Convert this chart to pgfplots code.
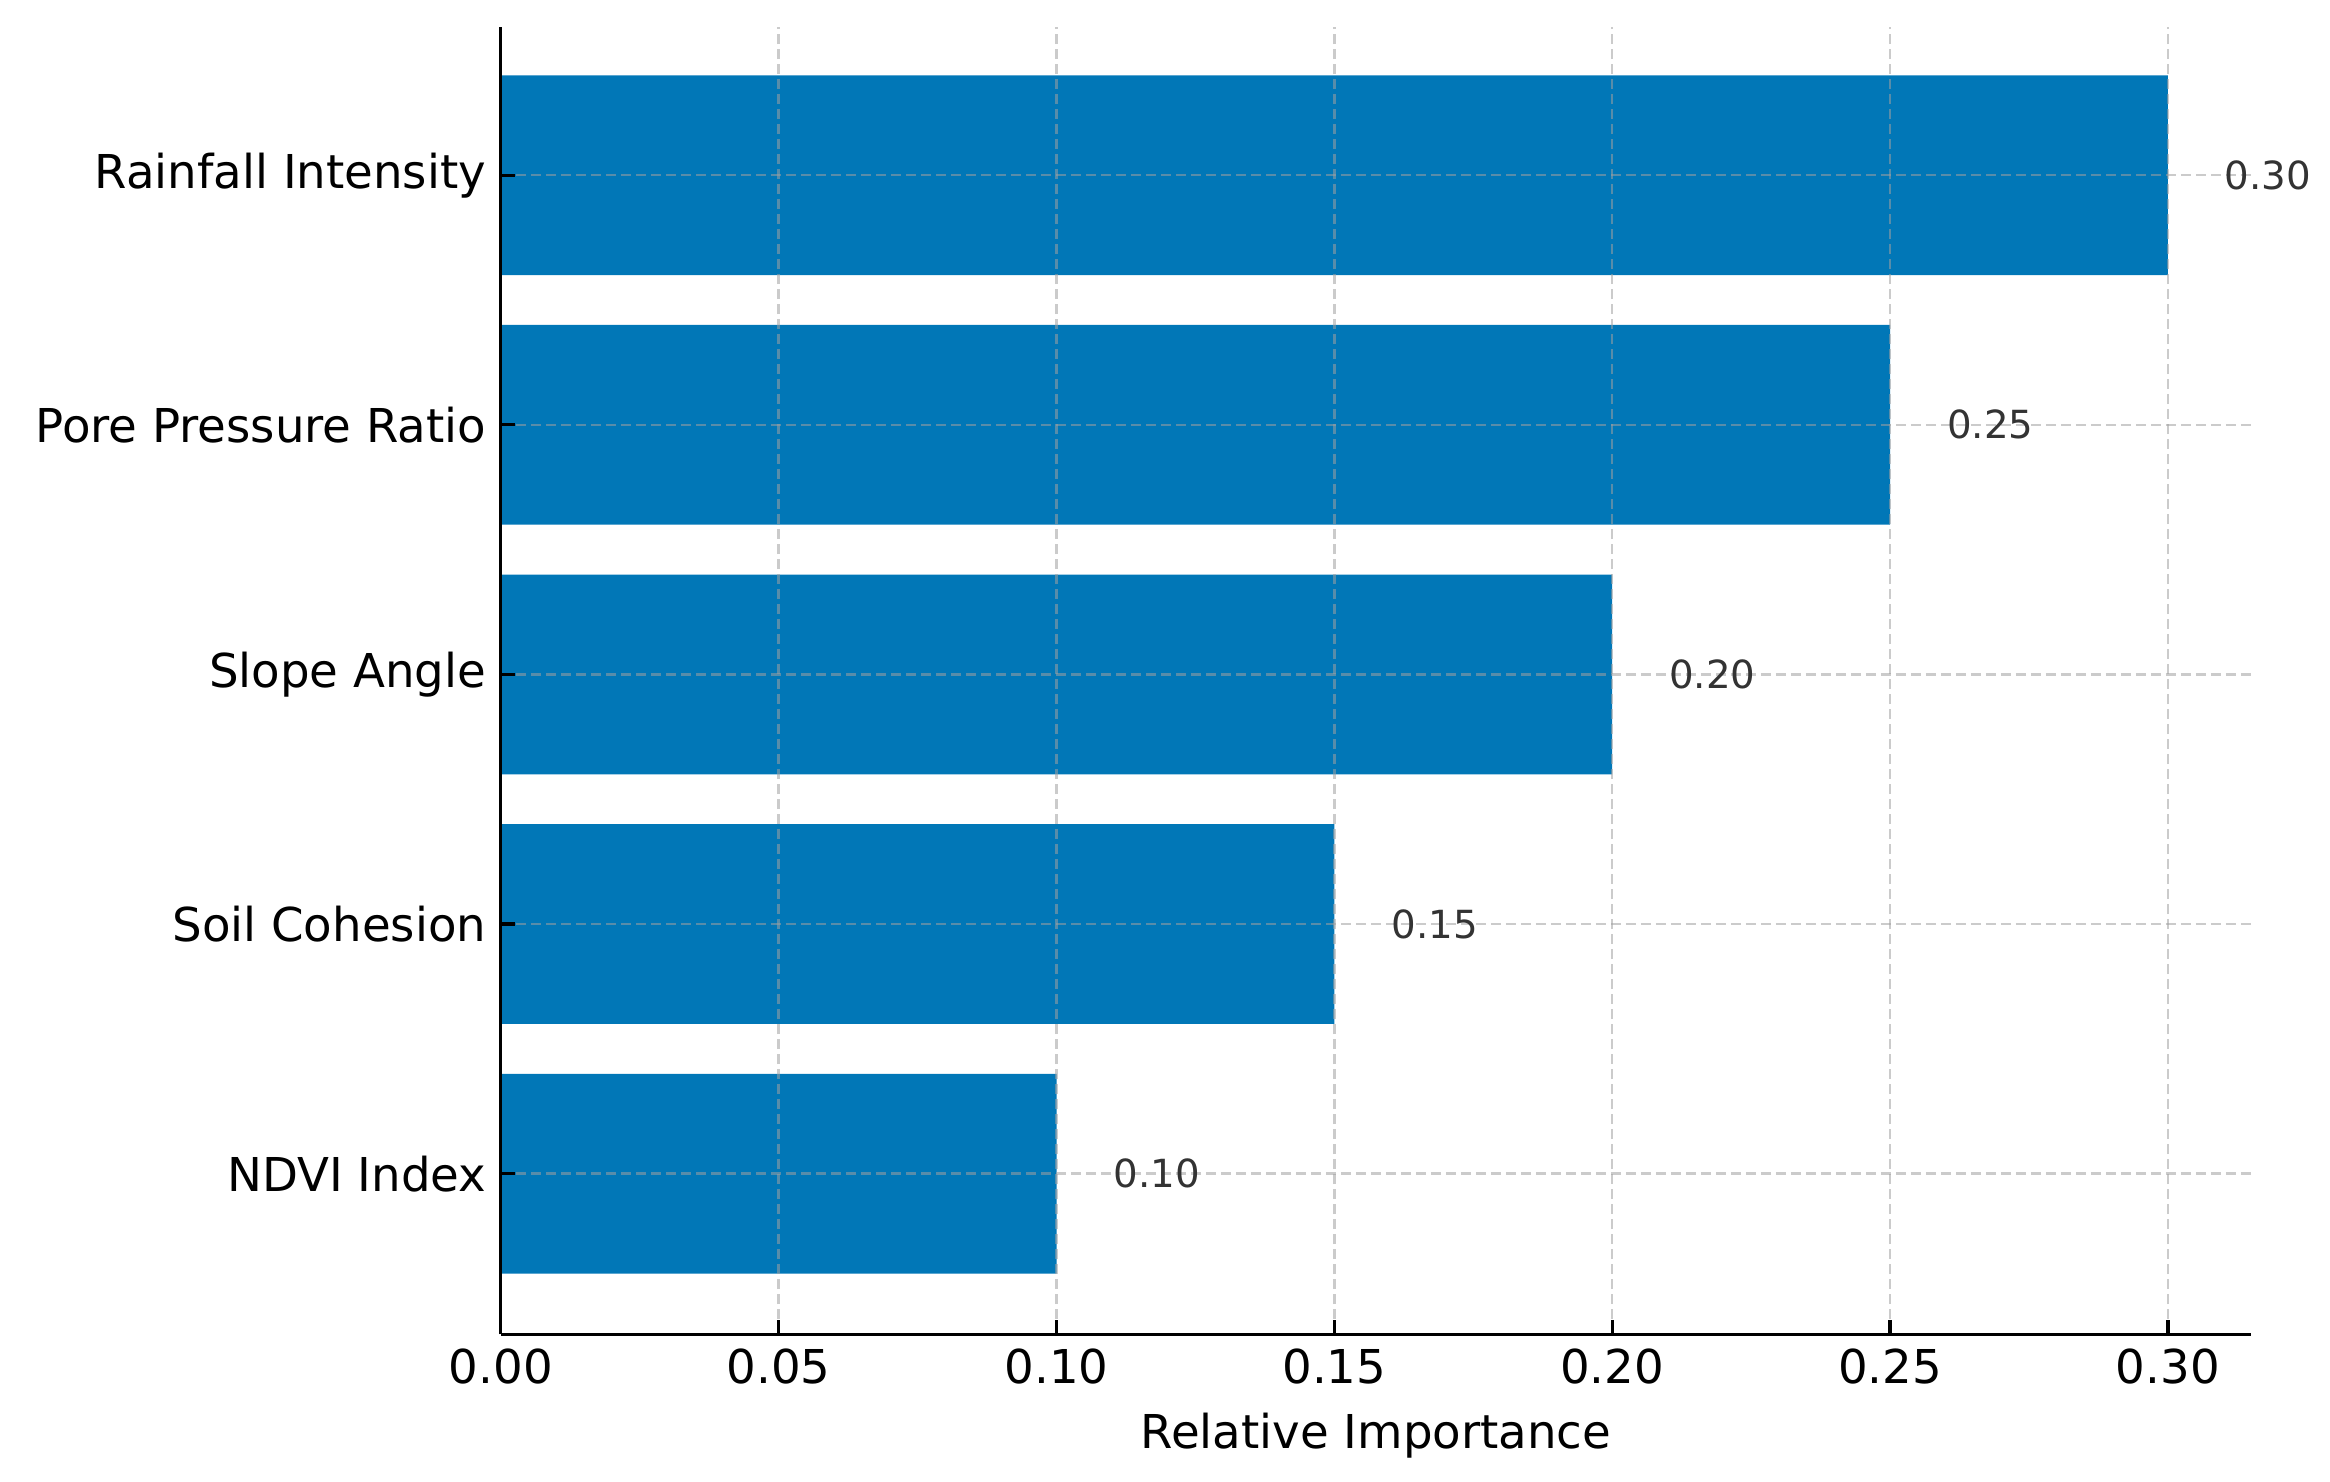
\documentclass[border=0pt]{standalone}
\usepackage{pgfplots}
\pgfplotsset{compat=1.18}
\usepackage{fontspec}
\setmainfont{DejaVu Sans}
\definecolor{barblue}{HTML}{0177B7}
\definecolor{gridgray}{HTML}{A0A0A0}
\definecolor{valgray}{HTML}{333333}
\begin{document}
\begin{tikzpicture}
\useasboundingbox (-120.2bp,-35.3bp) rectangle (439.0bp,320.2bp);
\begin{axis}[
  scale only axis, width=420.1bp, height=313.8bp,
  anchor=south west, at={(0,0)},
  xbar, bar width=0.8,
  xmin=0, xmax=0.315, ymin=-0.643, ymax=4.595,
  axis x line=bottom, axis y line=left,
  axis line style={-, line width=0.8bp, black},
  xtick={0,0.05,0.10,0.15,0.20,0.25,0.30},
  ytick={0,1,2,3,4},
  yticklabels={NDVI Index, Soil Cohesion, Slope Angle, Pore Pressure Ratio, Rainfall Intensity},
  tick align=inside, major tick length=3.5bp,
  tick style={black, line width=0.8bp},
  grid=major,
  grid style={gridgray, opacity=0.55, line width=0.6bp, dash pattern=on 2.4bp off 1.2bp},
  axis on top,
  clip=false,
  /pgf/number format/assume math mode=true,
  xticklabel style={font=\fontsize{11.2bp}{13bp}\selectfont, /pgf/number format/fixed, /pgf/number format/fixed zerofill, /pgf/number format/precision=2},
  yticklabel style={font=\fontsize{11.2bp}{13bp}\selectfont},
  xlabel={Relative Importance},
  xlabel style={font=\fontsize{11.2bp}{13bp}\selectfont, at={(axis description cs:0.5,0)}, anchor=base, yshift=-27.5bp, inner sep=0pt},
]
\addplot[fill=barblue, draw=none, point meta=x,
  nodes near coords={\pgfmathprintnumber[fixed,fixed zerofill,precision=2]{\pgfplotspointmeta}},
  nodes near coords style={anchor=west, inner sep=0pt, xshift=13.5bp, text=valgray, font=\fontsize{9.3bp}{11bp}\selectfont}]
  coordinates {(0.10,0) (0.15,1) (0.20,2) (0.25,3) (0.30,4)};
\end{axis}
\end{tikzpicture}
\end{document}
